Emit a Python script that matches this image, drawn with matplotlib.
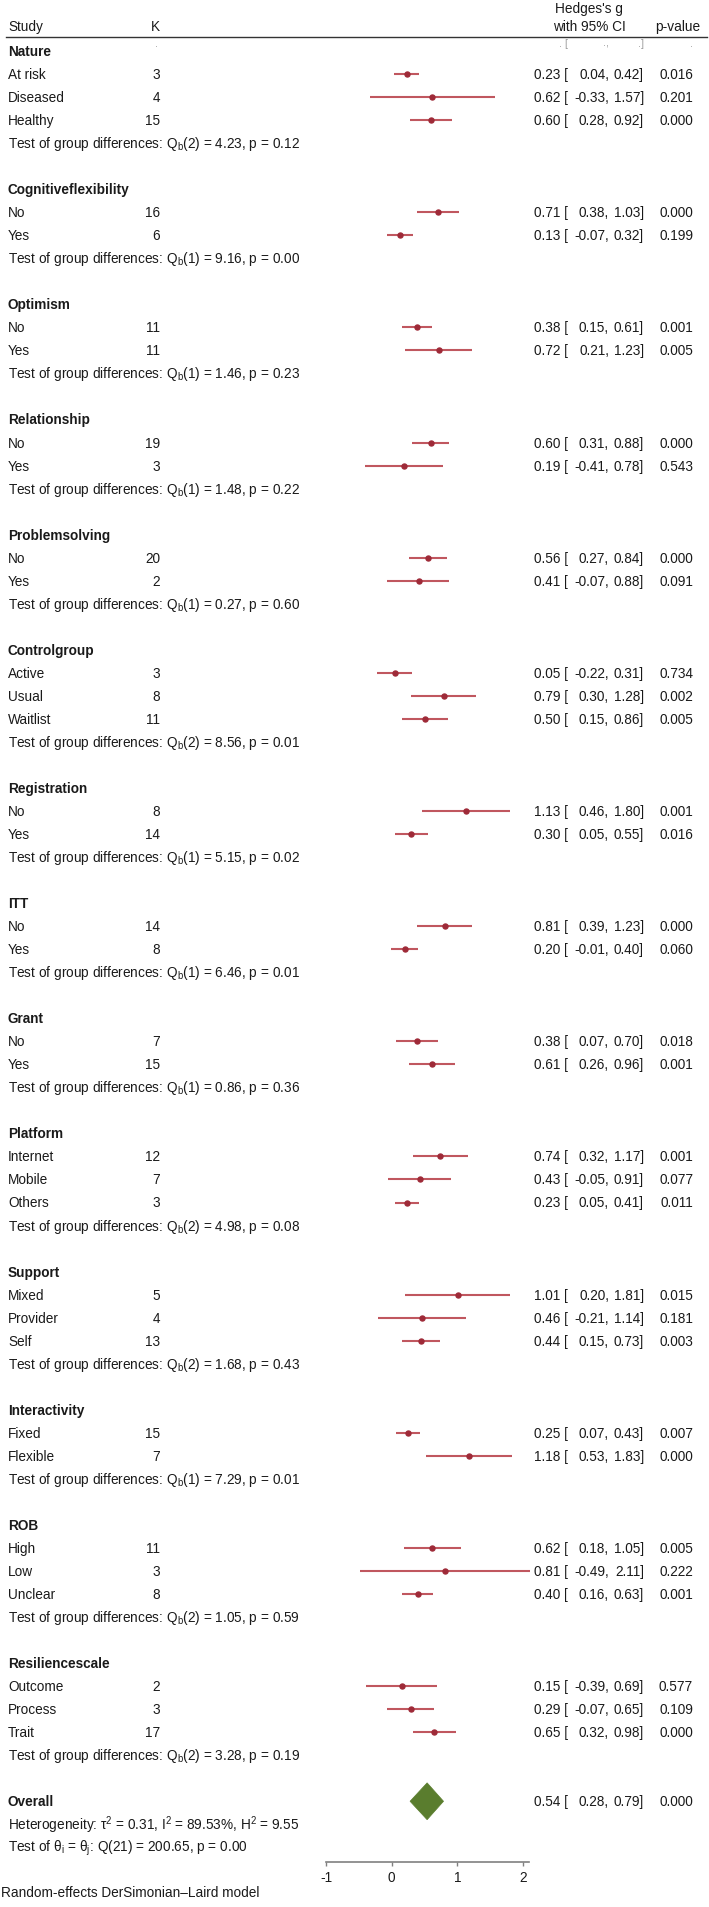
import matplotlib
matplotlib.use("Agg")
import matplotlib.pyplot as plt
from matplotlib import patches
from matplotlib.transforms import blended_transform_factory

plt.rcParams['font.family'] = ['Liberation Sans', 'DejaVu Sans']
plt.rcParams['font.size'] = 10
plt.rcParams['mathtext.fontset'] = 'custom'
plt.rcParams['mathtext.rm'] = 'Liberation Sans'
plt.rcParams['mathtext.it'] = 'Liberation Sans:italic'
plt.rcParams['mathtext.bf'] = 'Liberation Sans:bold'

# data ------------------------------
groups = ["Nature", "Cognitiveflexibility", "Optimism", "Relationship", "Problemsolving",
          "Controlgroup", "Registration", "ITT", "Grant", "Platform", "Support",
          "Interactivity", "ROB", "Resiliencescale"]
levels = [["At risk", "Diseased", "Healthy"], ["No", "Yes"], ["No", "Yes"], ["No", "Yes"],
          ["No", "Yes"], ["Active", "Usual", "Waitlist"], ["No", "Yes"], ["No", "Yes"],
          ["No", "Yes"], ["Internet", "Mobile", "Others"], ["Mixed", "Provider", "Self"],
          ["Fixed", "Flexible"], ["High", "Low", "Unclear"], ["Outcome", "Process", "Trait"]]
k_vals = [[3, 4, 15], [16, 6], [11, 11], [19, 3], [20, 2], [3, 8, 11], [8, 14], [14, 8],
          [7, 15], [12, 7, 3], [5, 4, 13], [15, 7], [11, 3, 8], [2, 3, 17]]
g_est = [[0.23, 0.62, 0.60], [0.71, 0.13], [0.38, 0.72], [0.60, 0.19], [0.56, 0.41],
         [0.05, 0.79, 0.50], [1.13, 0.30], [0.81, 0.20], [0.38, 0.61], [0.74, 0.43, 0.23],
         [1.01, 0.46, 0.44], [0.25, 1.18], [0.62, 0.81, 0.40], [0.15, 0.29, 0.65]]
ci_low = [[0.04, -0.33, 0.28], [0.38, -0.07], [0.15, 0.21], [0.31, -0.41], [0.27, -0.07],
          [-0.22, 0.30, 0.15], [0.46, 0.05], [0.39, -0.01], [0.07, 0.26], [0.32, -0.05, 0.05],
          [0.20, -0.21, 0.15], [0.07, 0.53], [0.18, -0.49, 0.16], [-0.39, -0.07, 0.32]]
ci_high = [[0.42, 1.57, 0.92], [1.03, 0.32], [0.61, 1.23], [0.88, 0.78], [0.84, 0.88],
           [0.31, 1.28, 0.86], [1.80, 0.55], [1.23, 0.40], [0.70, 0.96], [1.17, 0.91, 0.41],
           [1.81, 1.14, 0.73], [0.43, 1.83], [1.05, 2.11, 0.63], [0.69, 0.65, 0.98]]
p_vals = [[0.016, 0.201, 0.000], [0.000, 0.199], [0.001, 0.005], [0.000, 0.543], [0.000, 0.091],
          [0.734, 0.002, 0.005], [0.001, 0.016], [0.000, 0.060], [0.018, 0.001],
          [0.001, 0.077, 0.011], [0.015, 0.181, 0.003], [0.007, 0.000], [0.005, 0.222, 0.001],
          [0.577, 0.109, 0.000]]
q_df = [2, 1, 1, 1, 1, 2, 1, 1, 1, 2, 2, 1, 2, 2]
q_stat = [4.23, 9.16, 1.46, 1.48, 0.27, 8.56, 5.15, 6.46, 0.86, 4.98, 1.68, 7.29, 1.05, 3.28]
q_p = [0.12, 0.00, 0.23, 0.22, 0.60, 0.01, 0.02, 0.01, 0.36, 0.08, 0.43, 0.01, 0.59, 0.19]

overall = (0.54, 0.28, 0.79, 0.000)
tau2, i2, h2 = 0.31, 89.53, 9.55
q_all_df, q_all, q_all_p = 21, 200.65, 0.00
x_ticks = [-1, 0, 1, 2]

# layout (pixels) ------------------------------
W, H = 709, 1908
ROW0, ROWH = 52, 23.03
X0PX, XU = 391.7, 65.6
TXT = '#1a1a1a'
LINE_C = '#c0575f'
DOT_C = '#9e2a38'
DIAM_C = '#5a7d2e'


def row_of(py):
    return (py - ROW0) / ROWH


fig = plt.figure(figsize=(W / 100, H / 100), dpi=100)
ax = fig.add_axes([0, 0, 1, 1])
ax.set_xlim(-X0PX / XU, (W - X0PX) / XU)
ax.set_ylim(row_of(H), row_of(0))
tr = blended_transform_factory(fig.transFigure, ax.transData)


def txt(xpx, y, s, ha='left', **kw):
    kw.setdefault('color', TXT)
    return ax.text(xpx / W, y, s, ha=ha, va='center', transform=tr, **kw)


def value_cols(y, e, l, h, p):
    txt(568, y, f"{e:.2f} [", ha='right')
    txt(609, y, f"{l:.2f},", ha='right')
    txt(644, y, f"{h:.2f}]", ha='right')
    txt(693, y, f"{p:.3f}", ha='right')


# header
txt(8, row_of(27), "Study")
txt(160, row_of(27), "K", ha='right')
txt(589, row_of(9.5), "Hedges's g", ha='center')
txt(589, row_of(27), "with 95% CI", ha='center')
txt(700, row_of(27), "p-value", ha='right')
ax.plot([-X0PX / XU + 6 / XU, -X0PX / XU + 707 / XU], [row_of(37.7)] * 2, color='#333333', lw=1.0)
dy = row_of(44)
dots = []
for xp, s in [(158, "."), (568, ". ["), (609, ".,"), (644, ".]"), (693, ".")]:
    dots.append(txt(xp, dy, s, ha='right', color='#9a9a9a'))

# groups
row = 0
ref_text = None
for gi, name in enumerate(groups):
    txt(8, row, name, fontweight='bold')
    row += 1
    for li, lab in enumerate(levels[gi]):
        e, l, h = g_est[gi][li], ci_low[gi][li], ci_high[gi][li]
        txt(8, row, lab)
        txt(160, row, str(k_vals[gi][li]), ha='right')
        ax.plot([l, h], [row, row], color=LINE_C, lw=1.5, solid_capstyle='butt', zorder=2)
        ax.plot([e], [row], 'o', color=DOT_C, ms=3.6, zorder=3)
        value_cols(row, e, l, h, p_vals[gi][li])
        row += 1
    t = txt(8, row, f"Test of group differences: Q$_\\mathrm{{b}}$({q_df[gi]}) = {q_stat[gi]:.2f}, p = {q_p[gi]:.2f}")
    if ref_text is None:
        ref_text = t
    row += 2

# overall
oe, ol, oh, op = overall
txt(8, row, "Overall", fontweight='bold')
dh = 0.8
ax.add_patch(patches.Polygon([[ol, row], [oe, row - dh], [oh, row], [oe, row + dh]],
                             closed=True, facecolor=DIAM_C, edgecolor=DIAM_C, lw=0.5, zorder=3))
value_cols(row, oe, ol, oh, op)
row += 1
txt(8, row, f"Heterogeneity: τ$^2$ = {tau2:.2f}, I$^2$ = {i2:.2f}%, H$^2$ = {h2:.2f}")
row += 1
txt(8, row, f"Test of θ$_\\mathrm{{i}}$ = θ$_\\mathrm{{j}}$: Q({q_all_df}) = {q_all:.2f}, p = {q_all_p:.2f}")

txt(1, row_of(1893), "Random-effects DerSimonian\u2013Laird model")

# bottom axis
for s in ['left', 'top', 'right']:
    ax.spines[s].set_visible(False)
ax.spines['bottom'].set_position(('data', row_of(1862.7)))
ax.spines['bottom'].set_bounds(-1, 2.1)
ax.spines['bottom'].set_color('#808080')
ax.spines['bottom'].set_linewidth(1.2)
ax.set_xticks(x_ticks)
ax.set_xticklabels([str(t) for t in x_ticks])
ax.tick_params(axis='x', direction='out', length=3, width=1, color='#808080',
               labelsize=10, labelcolor=TXT, pad=3)
ax.set_yticks([])
ax.patch.set_alpha(0)

# fit text size so the group-test line spans the same width as in the reference
renderer = fig.canvas.get_renderer()
bb = ref_text.get_window_extent(renderer)
fs = 10 * (299 - 8) / bb.width
fs = min(max(fs, 9.0), 11.5)
for t in ax.texts:
    t.set_fontsize(fs if t not in dots else fs * 0.8)
ax.tick_params(axis='x', labelsize=fs)

fig.savefig("out.png", dpi=100)
